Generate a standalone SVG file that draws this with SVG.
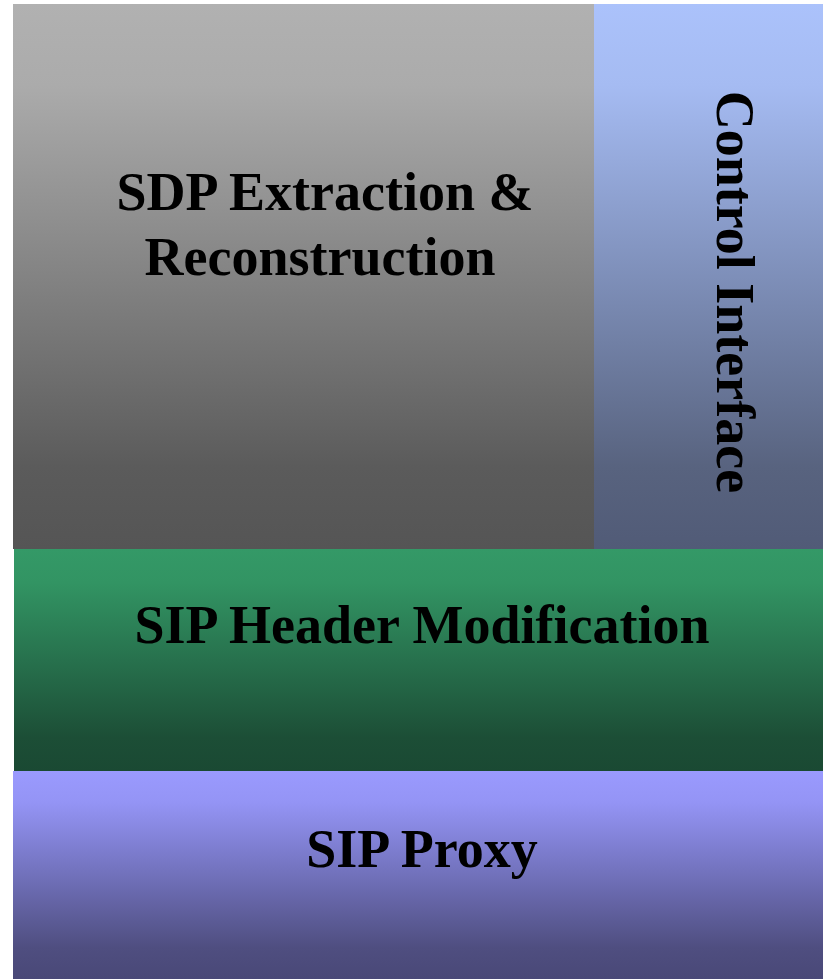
<svg xmlns="http://www.w3.org/2000/svg" width="823" height="979" viewBox="0 0 823 979">
<style>
.t{font-family:"Liberation Serif","Times New Roman",serif;font-weight:bold;fill:#000;text-anchor:middle}
</style>
<defs>
<linearGradient id="gGray" x1="0" y1="0" x2="0" y2="1"><stop offset="0" stop-color="#b1b1b1"/><stop offset="0.15" stop-color="#ababab"/><stop offset="0.5" stop-color="#838383"/><stop offset="0.85" stop-color="#5b5b5b"/><stop offset="1" stop-color="#555555"/></linearGradient>
<linearGradient id="gBlue" x1="0" y1="0" x2="0" y2="1"><stop offset="0" stop-color="#abc2fb"/><stop offset="0.15" stop-color="#a5bbf2"/><stop offset="0.5" stop-color="#7e8fb9"/><stop offset="0.85" stop-color="#58637f"/><stop offset="1" stop-color="#515b77"/></linearGradient>
<linearGradient id="gGreen" x1="0" y1="0" x2="0" y2="1"><stop offset="0" stop-color="#349967"/><stop offset="0.15" stop-color="#329463"/><stop offset="0.5" stop-color="#27714d"/><stop offset="0.85" stop-color="#1c4e36"/><stop offset="1" stop-color="#1a4933"/></linearGradient>
<linearGradient id="gPurple" x1="0" y1="0" x2="0" y2="1"><stop offset="0" stop-color="#9a9afe"/><stop offset="0.15" stop-color="#9494f5"/><stop offset="0.5" stop-color="#7171bb"/><stop offset="0.85" stop-color="#4f4e80"/><stop offset="1" stop-color="#494877"/></linearGradient>
</defs>
<rect width="823" height="979" fill="#fff"/>
<g id="sdp">
<rect x="13" y="4" width="581" height="545" fill="url(#gGray)"/>
<text class="t" x="325" y="210" font-size="54">SDP Extraction &amp;</text>
<text class="t" x="320" y="275" font-size="54">Reconstruction</text>
</g>
<g id="control">
<rect x="594" y="4" width="229" height="545" fill="url(#gBlue)"/>
<text class="t" font-size="54" transform="translate(717,292) rotate(90)">Control Interface</text>
</g>
<g id="header">
<rect x="14" y="549" width="809" height="222" fill="url(#gGreen)"/>
<text class="t" x="422" y="643" font-size="54">SIP Header Modification</text>
</g>
<g id="proxy">
<rect x="13" y="771" width="810" height="208" fill="url(#gPurple)"/>
<text class="t" x="422" y="867" font-size="54">SIP Proxy</text>
</g>
<g id="connectors"></g>
</svg>
